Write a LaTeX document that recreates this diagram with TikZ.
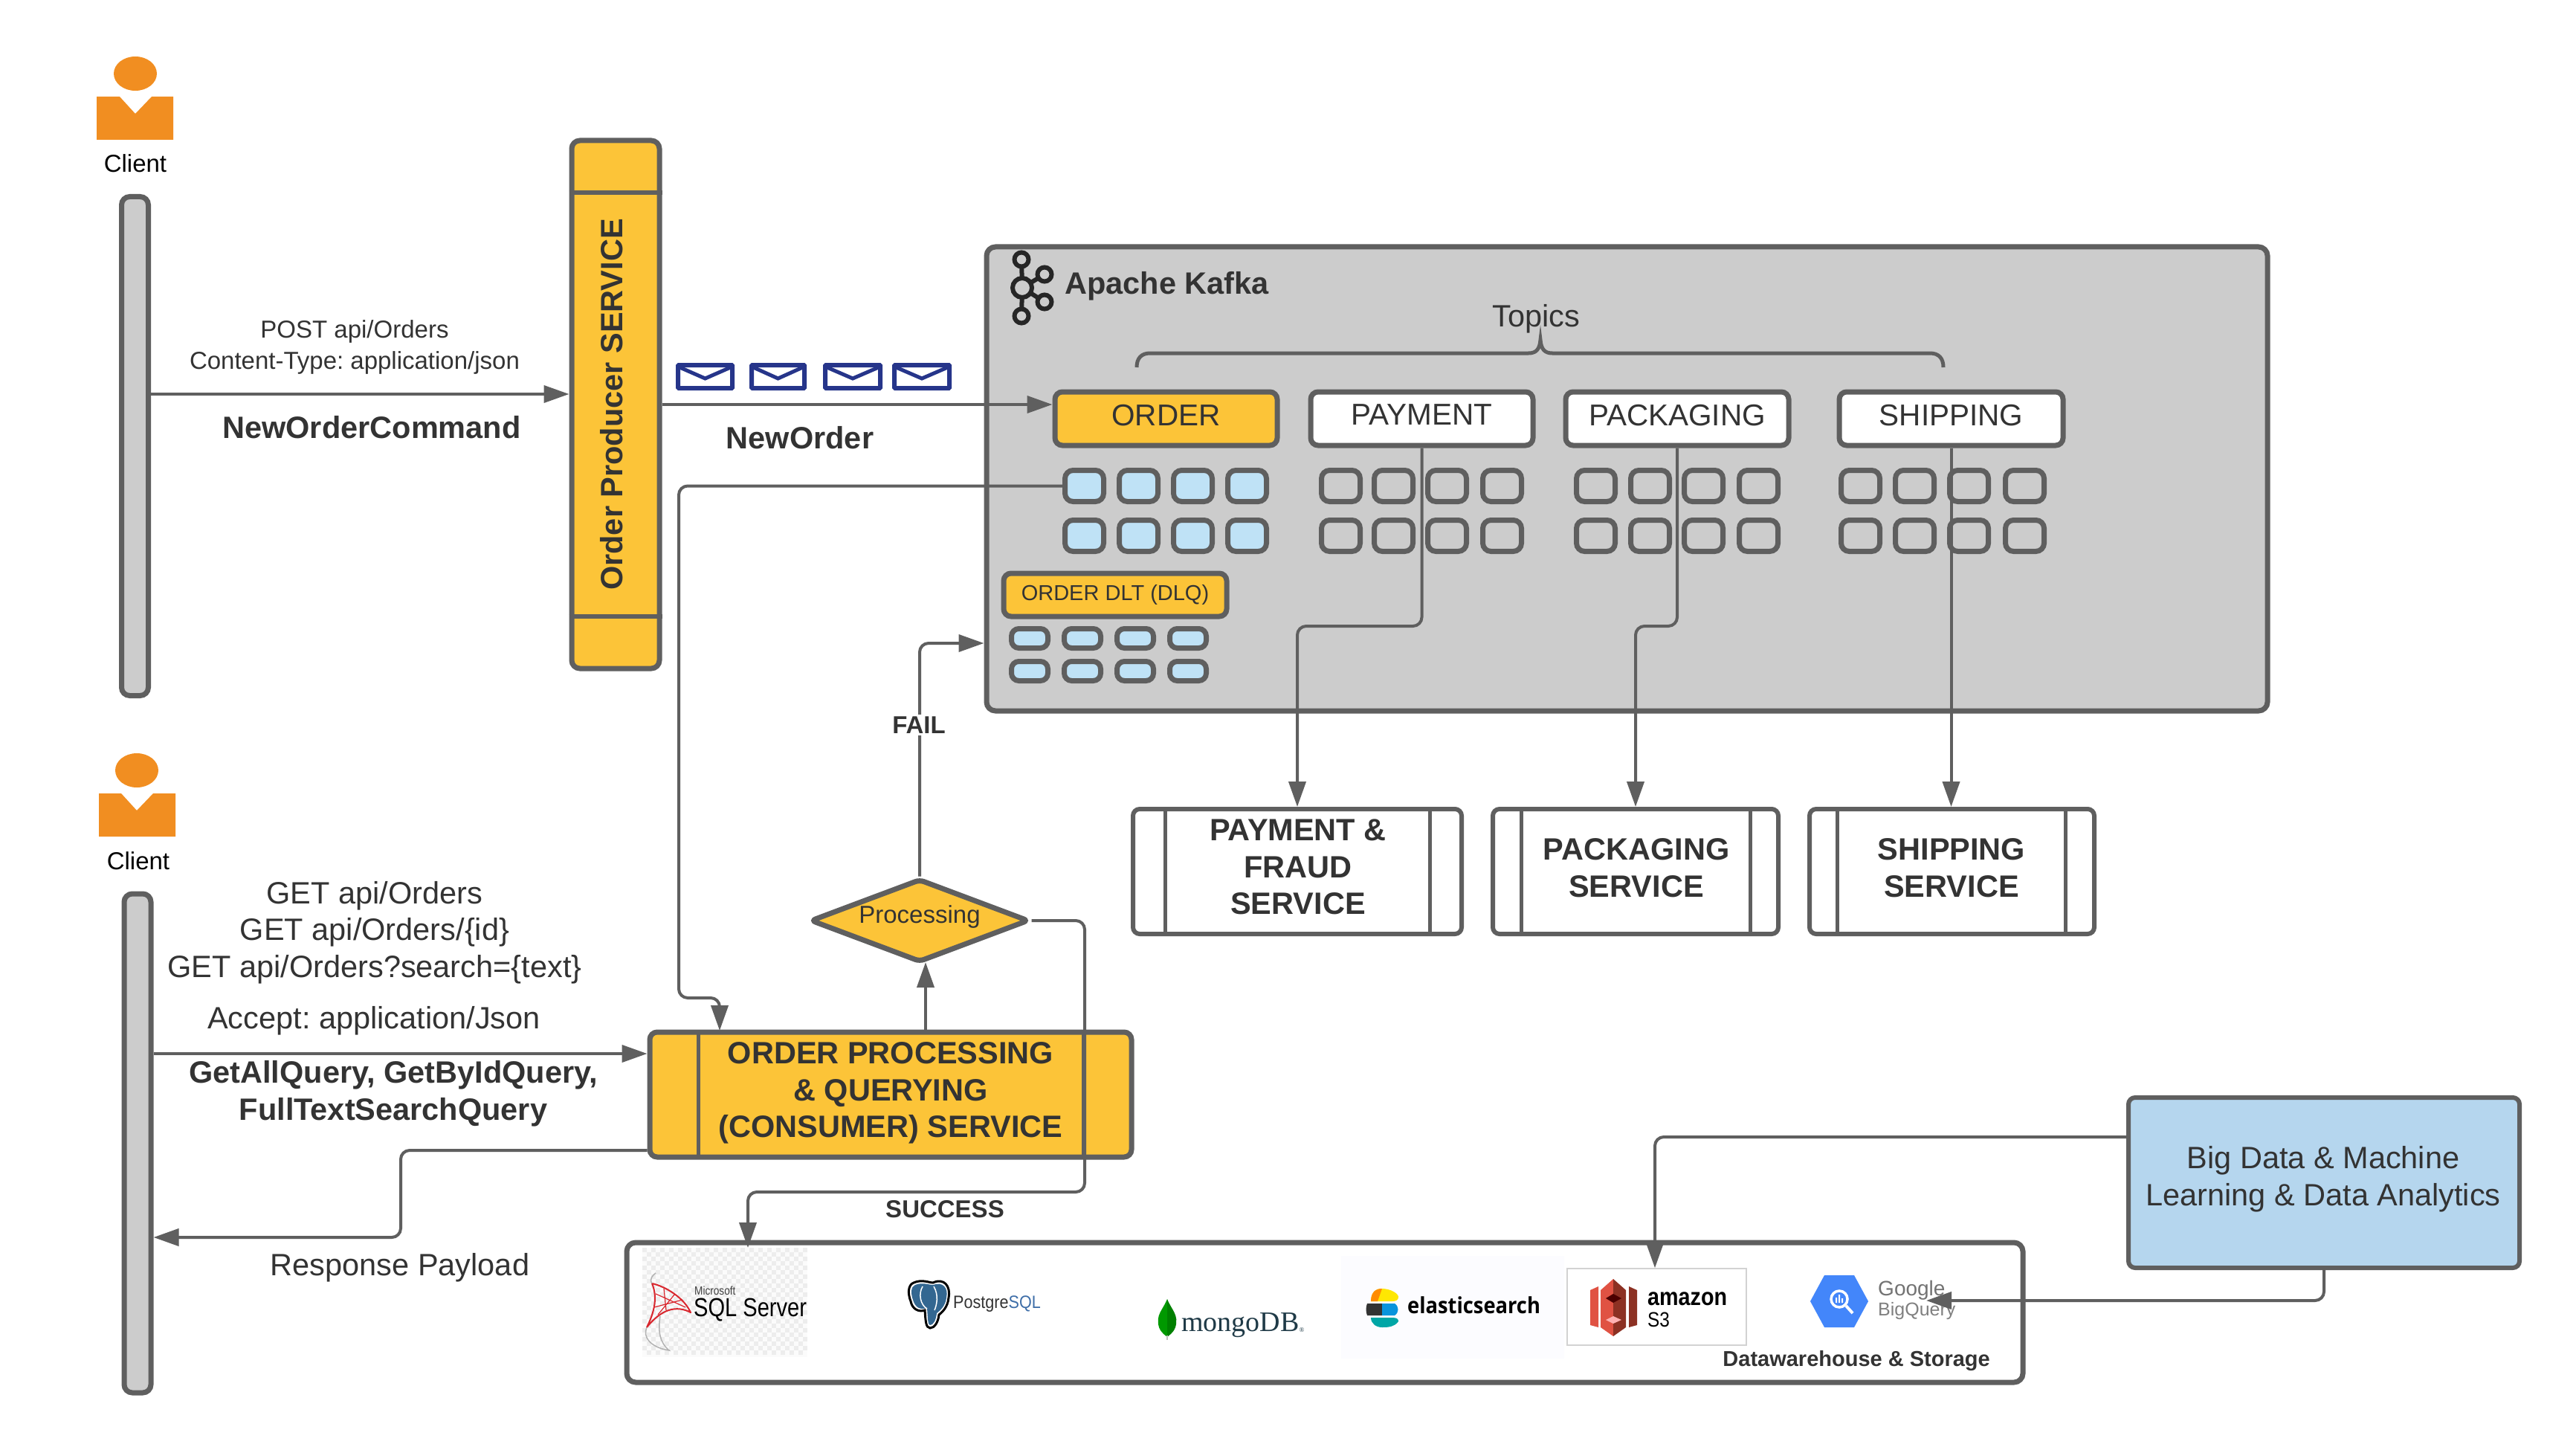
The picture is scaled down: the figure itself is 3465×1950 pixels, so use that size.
\documentclass[tikz,border=0pt]{standalone}
\usepackage{fontspec}
\setmainfont{Liberation Sans}
\newfontfamily\serifx{Liberation Serif}
\newfontfamily\opensans{Open Sans}
\usetikzlibrary{arrows.meta,shapes.geometric}
\AtBeginDocument{\frenchspacing}
\definecolor{ln}{HTML}{5F5F5F}
\definecolor{yel}{HTML}{FCC438}
\definecolor{gry}{HTML}{CCCCCC}
\definecolor{org}{HTML}{F18E21}
\definecolor{lbl}{HTML}{BFE2F6}
\definecolor{bdb}{HTML}{B5D6EE}
\definecolor{navy}{HTML}{26358A}
\definecolor{txt}{HTML}{333333}
\definecolor{pgblue}{HTML}{336791}
\definecolor{pgtxt}{HTML}{3E6EA8}
\definecolor{mongod}{HTML}{1F3A47}
\definecolor{s3l}{HTML}{E05243}
\definecolor{s3d}{HTML}{8C3123}
\definecolor{gq}{HTML}{4386FA}
\definecolor{mred}{HTML}{D9272E}
\newcommand{\fs}[1]{\fontsize{#1}{#1}\selectfont}
\newcommand{\bx}[7]{\pgfmathsetmacro\cxx{(#2+#4)/2}\pgfmathsetmacro\cyy{(#3+#5)/2}\pgfmathsetmacro\ww{#4-#2}\pgfmathsetmacro\hh{#5-#3}\node[#6,minimum width=\ww pt,minimum height=\hh pt,inner sep=0pt] (#1) at (\cxx,\cyy) {#7};}
\tikzset{
 x=1pt,y=-1pt,
 life/.style={draw=ln,fill=gry,line width=7pt,rounded corners=11pt},
 topic/.style={draw=ln,fill=white,line width=7pt,rounded corners=10pt,text=txt,font=\fs{40.5},text depth=10pt},
 part/.style={draw=ln,fill=none,line width=7pt,rounded corners=11pt},
 dltp/.style={draw=ln,fill=lbl,line width=7pt,rounded corners=10pt},
 sv/.style={draw=ln,fill=white,line width=6pt,rounded corners=9pt},
 t33/.style={text=txt,font=\fs{33},align=center,inner sep=0pt},
 t42/.style={text=txt,font=\fs{41.5},align=center,inner sep=0pt},
 b42/.style={text=txt,font=\bfseries\fs{41.5},align=center,inner sep=0pt},
 b33/.style={text=txt,font=\bfseries\fs{33},align=center,inner sep=0pt},
 conn/.style={draw=ln,line width=4pt,rounded corners=12pt,-{Triangle[length=34pt,width=23pt]}},
 env/.style={draw=navy,fill=white,line width=6pt,rounded corners=1pt},
}
\begin{document}
\begin{tikzpicture}
\useasboundingbox (0,0) rectangle (3465,1950);
\fill[white] (0,0) rectangle (3465,1950);
% --- Client 1
\fill[org] (182,99) ellipse[x radius=29pt,y radius=23pt];
\fill[org] (130,130) -- (161,130) -- (182,153) -- (204,130) -- (233,130) -- (233,188) -- (130,188) -- cycle;
\node[inner sep=0pt,text=black,font=\fs{33}] (clientA) at (182,220) {Client};
\bx{lifeA}{163.5}{264.5}{199.5}{935.5}{life}{}
% --- Client 2
\fill[org] (184,1036) ellipse[x radius=29pt,y radius=23pt];
\fill[org] (133,1067) -- (163,1067) -- (184,1090) -- (206,1067) -- (236,1067) -- (236,1125) -- (133,1125) -- cycle;
\node[inner sep=0pt,text=black,font=\fs{33}] (clientB) at (186,1158) {Client};
\bx{lifeB}{167}{1202}{203}{1873}{life}{}
% --- Producer
\bx{producer}{769}{189}{887}{899}{draw=ln,fill=yel,line width=7pt,rounded corners=11pt}{}
\draw[draw=ln,line width=6pt] (producer.west|-0,259) -- (producer.east|-0,259);
\draw[draw=ln,line width=6pt] (producer.west|-0,829) -- (producer.east|-0,829);
\node[b42,rotate=90] (producerT) at (823,544) {Order Producer SERVICE};
\node[t33,align=center] (postT) at (477,467) {POST api/Orders\\[9pt]Content-Type: application/json};
\node[b42] (cmdT) at (500,575) {NewOrderCommand};
\node[b42] (newT) at (1076,589) {NewOrder};
% --- Envelopes
\foreach \i/\xa/\xb in {1/912/985,2/1011/1082,3/1110/1184,4/1203/1277}{
 \pgfmathsetmacro\mx{(\xa+\xb)/2}
 \draw[env] (\xa,491) rectangle (\xb,522);
 \draw[navy,line width=5pt] (\xa,493) -- (\mx,509) -- (\xb,493);
}
% --- Kafka
\bx{kafka}{1327}{332}{3050}{956}{draw=ln,fill=gry,line width=7pt,rounded corners=12pt}{}
\begin{scope}[draw=black!85,line width=6pt]
 \draw (1375,387) -- (1374,349);
 \draw (1375,387) -- (1374,425);
 \draw (1375,387) -- (1405,369);
 \draw (1375,387) -- (1405,406);
 \filldraw[fill=gry] (1375,387) circle[radius=13pt];
 \filldraw[fill=gry] (1374,349) circle[radius=9.5pt];
 \filldraw[fill=gry] (1374,425) circle[radius=9.5pt];
 \filldraw[fill=gry] (1405,369) circle[radius=9.5pt];
 \filldraw[fill=gry] (1405,406) circle[radius=9.5pt];
\end{scope}
\node[b42,anchor=west] (kafkaT) at (1432,385) {Apache Kafka};
\node[t42] (topicsT) at (2066,429) {Topics};
\draw[ln,line width=5pt] (1529,494) .. controls (1529,482) and (1535,475) .. (1547,475) -- (2056,475) .. controls (2066,475) and (2071,470) .. (2072,457) .. controls (2073,470) and (2078,475) .. (2088,475) -- (2596,475) .. controls (2608,475) and (2614,482) .. (2614,494);
% topics
\bx{tOrder}{1419}{527}{1718}{599}{topic,fill=yel}{ORDER}
\bx{tPay}{1763}{527}{2062}{599}{topic}{PAYMENT}
\bx{tPack}{2106}{527}{2406}{599}{topic}{PACKAGING}
\bx{tShip}{2474}{527}{2775}{599}{topic}{SHIPPING}
% partitions
\foreach \i/\xa in {1/1432.5,2/1505.5,3/1578.5,4/1651.5}{
 \pgfmathsetmacro\xb{\xa+52}
 \bx{oa\i}{\xa}{632.5}{\xb}{674.5}{part,fill=lbl}{}
 \bx{ob\i}{\xa}{699.5}{\xb}{741.5}{part,fill=lbl}{}
}
\foreach \i/\xa in {1/1777.5,2/1848.5,3/1920.5,4/1994.5}{
 \pgfmathsetmacro\xb{\xa+52}
 \bx{pa\i}{\xa}{632.5}{\xb}{674.5}{part}{}
 \bx{pb\i}{\xa}{699.5}{\xb}{741.5}{part}{}
}
\foreach \i/\xa in {1/2120.5,2/2193.5,3/2265.5,4/2339.5}{
 \pgfmathsetmacro\xb{\xa+52}
 \bx{ka\i}{\xa}{632.5}{\xb}{674.5}{part}{}
 \bx{kb\i}{\xa}{699.5}{\xb}{741.5}{part}{}
}
\foreach \i/\xa in {1/2476.5,2/2549.5,3/2622.5,4/2697.5}{
 \pgfmathsetmacro\xb{\xa+52}
 \bx{sa\i}{\xa}{632.5}{\xb}{674.5}{part}{}
 \bx{sb\i}{\xa}{699.5}{\xb}{741.5}{part}{}
}
\bx{tDlt}{1350}{771}{1650}{829}{topic,fill=yel,font=\fs{29},text depth=6pt}{ORDER DLT (DLQ)}
\foreach \i/\xa in {1/1360.5,2/1431.5,3/1502.5,4/1573.5}{
 \pgfmathsetmacro\xb{\xa+49}
 \bx{da\i}{\xa}{845.5}{\xb}{871.5}{dltp}{}
 \bx{db\i}{\xa}{889.5}{\xb}{915.5}{dltp}{}
}
% --- services
\bx{sPay}{1524}{1088}{1966}{1256}{sv}{}
\draw[ln,line width=5pt] (1567,1088) -- (1567,1256) (1923,1088) -- (1923,1256);
\node[b42] (sPayT) at (1746,1166) {PAYMENT \&\\[8pt]FRAUD\\[8pt]SERVICE};
\bx{sPack}{2008}{1088}{2392}{1256}{sv}{}
\draw[ln,line width=5pt] (2046,1088) -- (2046,1256) (2354,1088) -- (2354,1256);
\node[b42] (sPackT) at (2201,1167) {PACKAGING\\[8pt]SERVICE};
\bx{sShip}{2434}{1088}{2817}{1256}{sv}{}
\draw[ln,line width=5pt] (2471,1088) -- (2471,1256) (2778,1088) -- (2778,1256);
\node[b42] (sShipT) at (2625,1167) {SHIPPING\\[8pt]SERVICE};
% --- consumer
\bx{cons}{874}{1388}{1522}{1556}{draw=ln,fill=yel,line width=7pt,rounded corners=10pt}{}
\draw[ln,line width=5pt] (939,1388) -- (939,1556);
\draw[ln,line width=6pt] (1458,1388) -- (1458,1556);
\node[b42] (consT) at (1198,1470) {ORDER PROCESSING\\[8pt]\& QUERYING\\[8pt](CONSUMER) SERVICE};
% diamond
\node[diamond,draw=ln,fill=yel,line width=7pt,rounded corners=6pt,minimum width=294pt,minimum height=112pt,inner sep=0pt,aspect=2.6,text=txt,font=\fs{33}] (proc) at (1237,1238) {};
\node[inner sep=0pt,text=txt,font=\fs{33}] (procT) at (1237,1233) {Processing};
\node[t42] (get) at (504,1254) {GET api/Orders\\[8pt]GET api/Orders/\{id\}\\[8pt]GET api/Orders?search=\{text\}};
\node[t42] (acc) at (503,1373) {Accept: application/Json};
\node[b42] (qry) at (529,1471) {GetAllQuery, GetByIdQuery,\\[8pt]FullTextSearchQuery};
\node[t42] (resp) at (538,1705) {Response Payload};
\node[b33] (succ) at (1271,1626) {SUCCESS};
% --- storage
\bx{store}{843}{1671}{2721}{1859}{draw=ln,fill=white,line width=7pt,rounded corners=12pt}{}
% SQL Server
\fill[gray!3] (864,1678) rectangle (1086,1825);
\foreach \i in {0,...,36}{\foreach \j in {0,...,23}{
 \pgfmathtruncatemacro\k{mod(\i+\j,2)}
 \ifnum\k=0 \fill[gray!14] (864+\i*6,1678+\j*6) rectangle ++(6,6); \fi
}}
\draw[mred,line width=2pt,line join=round] (877,1726) .. controls (895,1730) and (920,1745) .. (929,1765) .. controls (910,1755) and (890,1760) .. (870,1785) .. controls (880,1765) and (885,1745) .. (877,1726) -- cycle;
\draw[mred,line width=1.2pt] (882,1740) -- (922,1758) (893,1733) -- (896,1762) (908,1740) -- (885,1768) (880,1758)--(918,1748);
\draw[gray!60,line width=1.5pt] (870,1785) .. controls (864,1798) and (875,1812) .. (900,1816) .. controls (887,1805) and (885,1790) .. (888,1770);
\draw[gray!60,line width=1.5pt] (877,1726) .. controls (873,1720) and (878,1715) .. (882,1712);
\node[anchor=west,inner sep=0pt,font=\fs{16},text=black!75] (mssql) at (934,1736) {\scalebox{.85}[1]{Microsoft}};
\node[anchor=west,inner sep=0pt,font=\fs{35},text=black] (sql) at (933,1762) {\scalebox{.83}[1]{SQL Server}};
% PostgreSQL
\begin{scope}[shift={(-5,-10)}]
\draw[black,line width=3pt,fill=white] (1234,1735) .. controls (1245,1730) and (1255,1735) .. (1260,1735) .. controls (1275,1728) and (1284,1740) .. (1281,1755) .. controls (1280,1768) and (1272,1775) .. (1268,1778) .. controls (1267,1788) and (1262,1796) .. (1256,1796) .. controls (1250,1796) and (1250,1785) .. (1249,1772) .. controls (1240,1775) and (1232,1770) .. (1230,1760) .. controls (1226,1750) and (1226,1738) .. (1234,1735) -- cycle;
\fill[pgblue] (1236,1738) .. controls (1245,1734) and (1255,1738) .. (1260,1738) .. controls (1273,1733) and (1281,1742) .. (1278,1755) .. controls (1277,1766) and (1270,1772) .. (1265,1776) .. controls (1264,1786) and (1260,1792) .. (1256,1792) .. controls (1253,1792) and (1253,1783) .. (1252,1769) .. controls (1242,1772) and (1236,1768) .. (1233,1758) .. controls (1230,1750) and (1230,1740) .. (1236,1738) -- cycle;
\draw[white,line width=1.5pt] (1246,1740) .. controls (1240,1750) and (1243,1765) .. (1252,1770) (1261,1740) .. controls (1268,1752) and (1265,1765) .. (1262,1772);
\end{scope}
\node[anchor=west,inner sep=0pt,font=\fs{24}] (pg) at (1282,1754) {\scalebox{.9}[1]{\textcolor{black!80}{Postgre}\textcolor{pgtxt}{SQL}}};
% mongoDB
\fill[green!60!black] (1570,1747) .. controls (1564,1762) and (1554,1768) .. (1559,1785) .. controls (1562,1793) and (1568,1796) .. (1570,1798) -- cycle;
\fill[green!50!black] (1570,1747) .. controls (1576,1762) and (1586,1768) .. (1581,1785) .. controls (1578,1793) and (1572,1796) .. (1570,1798) -- cycle;
\draw[gray!50,line width=1.5pt] (1570,1796) -- (1570,1802);
\node[anchor=west,inner sep=0pt,font=\serifx\fs{38},text=mongod] (mongo) at (1589,1782) {mongoDB\raisebox{-1pt}{\fs{9}®}};
% elasticsearch
\fill[blue!1!white] (1804,1689) rectangle (2104,1827);
\begin{scope}[shift={(-9,-8)}]
\fill[yellow!90!orange] (1853,1758) .. controls (1853,1745) and (1860,1741) .. (1868,1741) .. controls (1880,1741) and (1890,1748) .. (1890,1752) .. controls (1890,1756) and (1887,1758) .. (1882,1758) -- cycle;
\fill[orange!90!yellow] (1853,1758) .. controls (1853,1745) and (1860,1741) .. (1868,1741) -- (1862,1758) -- cycle;
\fill[black!80] (1848,1761) -- (1868,1761) -- (1868,1777) -- (1848,1777) .. controls (1846,1772) and (1846,1766) .. (1848,1761) -- cycle;
\fill[cyan!80!blue] (1868,1761) -- (1885,1761) .. controls (1891,1765) and (1891,1773) .. (1885,1777) -- (1868,1777) -- cycle;
\fill[teal!70!cyan] (1853,1780) -- (1882,1780) .. controls (1888,1780) and (1890,1782) .. (1890,1785) .. controls (1885,1792) and (1878,1793) .. (1868,1793) .. controls (1860,1793) and (1853,1788) .. (1853,1780) -- cycle;
\end{scope}
\node[anchor=west,inner sep=0pt,font=\opensans\bfseries\fs{30},text=black] (elastic) at (1893,1755) {\scalebox{.91}[1]{elasticsearch}};
% S3
\bx{s3frame}{2108}{1706}{2349}{1809}{draw=gray!35,fill=white,line width=1.5pt}{}
\fill[s3l] (2139,1735) -- (2150,1730) -- (2150,1785) -- (2139,1782) -- cycle;
\fill[s3d] (2202,1735) -- (2191,1730) -- (2191,1785) -- (2202,1782) -- cycle;
\fill[s3l] (2153,1735) -- (2170,1720) -- (2170,1797) -- (2153,1785) -- cycle;
\fill[s3d] (2187,1735) -- (2170,1720) -- (2170,1797) -- (2187,1785) -- cycle;
\fill[red!30!black] (2160,1746) -- (2170,1740) -- (2181,1746) -- (2170,1752) -- cycle;
\fill[red!30!white] (2160,1775) -- (2170,1770) -- (2181,1775) -- (2170,1780) -- cycle;
\node[anchor=west,inner sep=0pt,font=\bfseries\fs{33},text=black] (amazon) at (2216,1747) {\scalebox{.87}[1]{amazon}};
\node[anchor=west,inner sep=0pt,font=\fs{28},text=black] (s3t) at (2216,1775) {\scalebox{.87}[1]{S3}};
% BigQuery
\fill[gq] (2454,1715) -- (2494,1715) -- (2513,1750) -- (2494,1785) -- (2454,1785) -- (2435,1750) -- cycle;
\draw[white,line width=3.5pt] (2474,1747) circle[radius=11pt];
\draw[white,line width=4pt] (2483,1756) -- (2492,1766);
\fill[white] (2469,1745) rectangle (2471,1752) (2473,1741) rectangle (2475,1752) (2477,1746) rectangle (2479,1752);
\node[anchor=west,inner sep=0pt,font=\fs{28},text=black!55] (goog) at (2526,1735) {Google};
\node[anchor=west,inner sep=0pt,font=\fs{25},text=black!50] (bq) at (2526,1763) {BigQuery};
\node[anchor=east,inner sep=0pt,font=\bfseries\fs{29},text=txt] (dw) at (2677,1830) {Datawarehouse \& Storage};
% --- Big data
\bx{big}{2863}{1476}{3389}{1705}{draw=ln,fill=bdb,line width=6pt,rounded corners=9pt}{}
\node[inner sep=0pt,align=center,text=txt,font=\fs{41.5}] (bigT) at (3125,1586) {Big Data \& Machine\\[8pt]Learning \& Data Analytics};
% --- connectors
\draw[conn] (lifeA.east|-0,530) -- (producer.west|-0,530);
\draw[conn] (producer.east|-0,544) -- (tOrder.west|-0,544);
\draw[conn] (lifeB.east|-0,1417) -- (cons.west|-0,1417);
\draw[conn] (oa1.west) -| (913,1342) -| (968,1386);
\draw[conn] (cons.north-|1245,0) -- (1245,1294);
\draw[conn] (proc.north) |- (kafka.west|-0,865);
\draw[conn] (proc.east) -| (1459,1603) -| (1006,1678);
\draw[conn] (cons.west|-0,1547) -| (539,1664) -- (lifeB.east|-0,1664);
\draw[conn] (tPay.south) |- (sPay.north|-0,842) -- (sPay.north);
\draw[conn] (tPack.south) |- (sPack.north|-0,842) -- (sPack.north);
\draw[conn] (tShip.south) -- (tShip.south|-sShip.north);
\draw[conn] (big.west|-0,1529) -| (s3frame.north-|2226,0);
\draw[conn] (big.south) |- (2591,1749);
\node[b33,fill=white,inner sep=3pt] (fail) at (1236,975) {FAIL};
\end{tikzpicture}
\end{document}
